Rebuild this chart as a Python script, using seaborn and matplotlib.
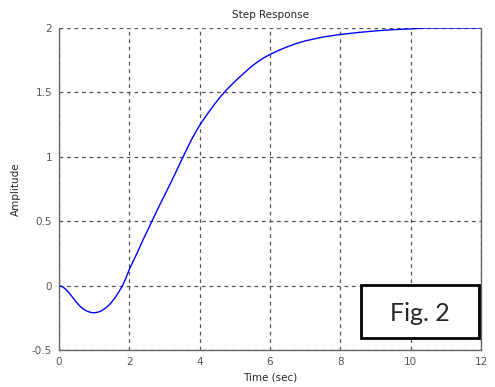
import numpy as np
import pandas as pd
import seaborn as sns
import matplotlib.pyplot as plt
from matplotlib.patches import Rectangle

# step response
time_sec = [0, 0.1, 0.2, 0.3, 0.4, 0.5, 0.6, 0.7, 0.8, 0.9, 1.0, 1.1, 1.2, 1.3,
            1.4, 1.5, 1.6, 1.7, 1.8, 1.9, 2.0, 2.2, 2.4, 2.6, 2.8, 3.0, 3.2,
            3.4, 3.6, 3.8, 4.0, 4.2, 4.4, 4.6, 4.8, 5.0, 5.2, 5.4, 5.6, 5.8,
            6.0, 6.25, 6.5, 6.75, 7.0, 7.5, 8.0, 8.5, 9.0, 9.5, 10.0, 10.4, 12.0]
amplitude = [0, -0.008, -0.03, -0.06, -0.095, -0.13, -0.16, -0.183, -0.199,
             -0.208, -0.211, -0.207, -0.197, -0.18, -0.158, -0.128, -0.092,
             -0.05, -0.005, 0.055, 0.125, 0.24, 0.36, 0.475, 0.59, 0.70, 0.81,
             0.925, 1.04, 1.15, 1.245, 1.325, 1.40, 1.47, 1.53, 1.585, 1.635,
             1.685, 1.728, 1.765, 1.795, 1.827, 1.855, 1.88, 1.90, 1.93, 1.95,
             1.965, 1.978, 1.987, 1.993, 2.0, 2.0]
x_ticks = [0, 2, 4, 6, 8, 10, 12]
y_ticks = [-0.5, 0, 0.5, 1, 1.5, 2]

df = pd.DataFrame({'t': time_sec, 'y': amplitude})

sns.set_style("white")
plt.rcParams['font.family'] = ['DejaVu Sans']

fig = plt.figure(figsize=(4.95, 3.87), dpi=100)
ax = fig.add_axes([0.119, 0.0956, 0.853, 0.832])

sns.lineplot(data=df, x='t', y='y', ax=ax, color='#0000ff', linewidth=1.0)

ax.set_xlim(0, 12)
ax.set_ylim(-0.5, 2)
ax.set_xticks(x_ticks)
ax.set_yticks(y_ticks)
ax.set_yticklabels(['-0.5', '0', '0.5', '1', '1.5', '2'])
ax.grid(True, color='#555555', linestyle=(0, (3, 3)), linewidth=0.9)
ax.tick_params(axis='both', length=0, labelsize=7.5, labelcolor='#555555', pad=5)

for side in ['left', 'bottom', 'right']:
    ax.spines[side].set_color('#666666')
    ax.spines[side].set_linewidth(1.0)
ax.spines['top'].set_visible(False)

ax.set_title('Step Response', fontsize=7.5, pad=7)
ax.set_xlabel('Time (sec)', fontsize=7.5, labelpad=4)
ax.set_ylabel('Amplitude', fontsize=7.5, labelpad=8)

# "Fig. 2" label box
fig.patches.append(Rectangle((0.729, 0.127), 0.239, 0.137, transform=fig.transFigure,
                             facecolor='white', edgecolor='black', linewidth=2, zorder=5))
fig.text(0.8485, 0.19, 'Fig. 2', fontsize=18, family=['Lato', 'DejaVu Sans'],
         ha='center', va='center', zorder=6)

plt.savefig('out.png', dpi=100)
